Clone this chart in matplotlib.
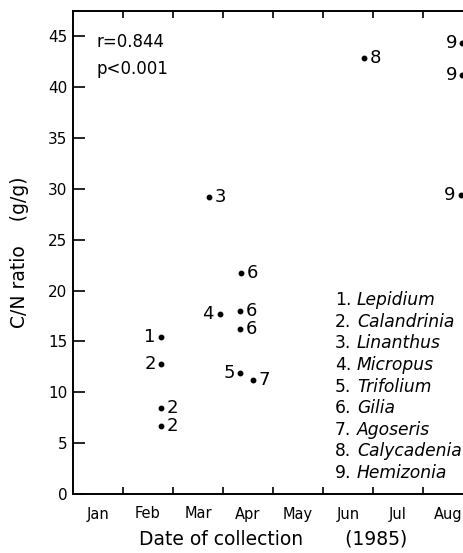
import matplotlib
matplotlib.use("Agg")
import matplotlib.pyplot as plt
from matplotlib.ticker import FixedLocator, NullFormatter, FixedFormatter

plt.rcParams['font.family'] = ['DejaVu Sans']

# data
species_ids = [1, 2, 2, 2, 3, 4, 5, 6, 6, 6, 7, 8, 9, 9, 9]
months = [1.76, 1.77, 1.76, 1.76, 2.73, 2.93, 3.35, 3.37, 3.35, 3.35, 3.6, 5.82, 7.79, 7.79, 7.76]
cn_ratio = [15.4, 12.75, 8.5, 6.7, 29.2, 17.7, 11.9, 21.7, 18.0, 16.2, 11.2, 42.9, 44.3, 41.2, 29.4]
label_side = ['l', 'l', 'r', 'r', 'r', 'l', 'l', 'r', 'r', 'r', 'r', 'r', 'l', 'l', 'l']
month_labels = ['Jan', 'Feb', 'Mar', 'Apr', 'May', 'Jun', 'Jul', 'Aug']
species_names = ['Lepidium', 'Calandrinia', 'Linanthus', 'Micropus', 'Trifolium',
                 'Gilia', 'Agoseris', 'Calycadenia', 'Hemizonia']
y_ticks = [0, 5, 10, 15, 20, 25, 30, 35, 40, 45]

fig = plt.figure(figsize=(4.64, 5.53), dpi=100)
ax = fig.add_axes([73/464, 59/553, 400/464, 483.3/553])
ax.set_xlim(0, 8)
ax.set_ylim(0, 47.5)

ax.plot(months, cn_ratio, 'o', color='black', markersize=3.2, clip_on=False)
for sid, mx, yv, side in zip(species_ids, months, cn_ratio, label_side):
    if side == 'r':
        ax.annotate(str(sid), (mx, yv), xytext=(4, 0), textcoords='offset points',
                    ha='left', va='center', fontsize=13)
    else:
        ax.annotate(str(sid), (mx, yv), xytext=(-4, 0), textcoords='offset points',
                    ha='right', va='center', fontsize=13)

for sp in ['top', 'left', 'bottom']:
    ax.spines[sp].set_linewidth(1.4)
ax.spines['right'].set_visible(False)

ax.yaxis.set_major_locator(FixedLocator(y_ticks))
ax.set_yticklabels([str(v) for v in y_ticks])
ax.tick_params(axis='y', direction='in', length=8.5, width=1.2, labelsize=11, pad=4)

ax.xaxis.set_major_locator(FixedLocator(list(range(1, 8))))
ax.xaxis.set_major_formatter(NullFormatter())
ax.xaxis.set_minor_locator(FixedLocator([i + 0.5 for i in range(8)]))
ax.xaxis.set_minor_formatter(FixedFormatter(month_labels))
ax.tick_params(axis='x', which='major', direction='in', length=5, width=1.2, top=True)
ax.tick_params(axis='x', which='minor', length=0, labelsize=10.5, pad=9)

ax.set_xlabel('Date of collection       (1985)', fontsize=13.5, labelpad=6)
ax.set_ylabel('C/N ratio    (g/g)', fontsize=13.5, labelpad=14)

ax.text(0.06, 0.935, 'r=0.844', transform=ax.transAxes, fontsize=12, va='center')
ax.text(0.06, 0.88, 'p<0.001', transform=ax.transAxes, fontsize=12, va='center')

for i, name in enumerate(species_names):
    yf = 0.401 - i * 0.0447
    ax.text(0.655, yf, f'{i+1}.', transform=ax.transAxes, fontsize=12.3, va='center')
    ax.text(0.71, yf, name, transform=ax.transAxes, fontsize=12.3, va='center',
            style='italic')

fig.savefig('out.png', dpi=100)
